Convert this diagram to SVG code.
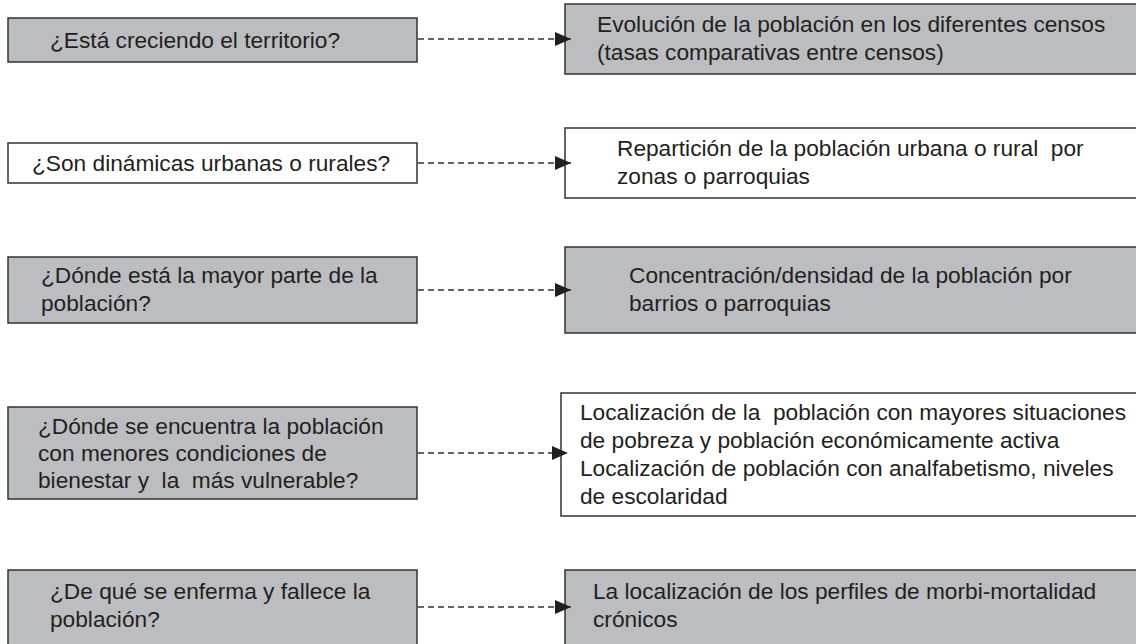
<svg xmlns="http://www.w3.org/2000/svg" width="1136" height="644" viewBox="0 0 1136 644">
<style>
.g{fill:#bcbdc0;stroke:#333333;stroke-width:1.5}
.w{fill:#ffffff;stroke:#333333;stroke-width:1.5}
text{font-family:"Liberation Sans",Arial,sans-serif;font-size:22.7px;fill:#231f20}
.c{stroke:#333333;stroke-width:1.3;stroke-dasharray:6,4;fill:none}
</style>
<defs>
<marker id="ah" markerWidth="16" markerHeight="14" refX="16" refY="7" orient="auto" markerUnits="userSpaceOnUse">
<path d="M0,0 L16,7 L0,14 Z" fill="#231f20"/>
</marker>
</defs>
<rect width="1136" height="644" fill="#ffffff"/>
<g id="q1"><rect class="g" x="8" y="18" width="409" height="44"/><text x="50" y="48">¿Está creciendo el territorio?</text></g>
<g id="a1"><rect class="g" x="565" y="4" width="580" height="70"/><text x="597" y="32">Evolución de la población en los diferentes censos</text><text x="597" y="60">(tasas comparativas entre censos)</text></g>
<g id="q2"><rect class="w" x="8" y="143" width="409" height="40"/><text x="32" y="171">¿Son dinámicas urbanas o rurales?</text></g>
<g id="a2"><rect class="w" x="565" y="128" width="580" height="70"/><text x="617" y="156" xml:space="preserve">Repartición de la población urbana o rural  por</text><text x="617" y="184">zonas o parroquias</text></g>
<g id="q3"><rect class="g" x="8" y="257" width="409" height="66"/><text x="41" y="283">¿Dónde está la mayor parte de la</text><text x="41" y="311">población?</text></g>
<g id="a3"><rect class="g" x="565" y="247" width="580" height="86"/><text x="629" y="283">Concentración/densidad de la población por</text><text x="629" y="311">barrios o parroquias</text></g>
<g id="q4"><rect class="g" x="8" y="407" width="409" height="92"/><text x="38" y="434">¿Dónde se encuentra la población</text><text x="38" y="461">con menores condiciones de</text><text x="38" y="488" xml:space="preserve">bienestar y  la  más vulnerable?</text></g>
<g id="a4"><rect class="w" x="561" y="393" width="584" height="123"/><text x="580" y="420" xml:space="preserve">Localización de la  población con mayores situaciones</text><text x="580" y="448">de pobreza y población económicamente activa</text><text x="580" y="476">Localización de población con analfabetismo, niveles</text><text x="580" y="504">de escolaridad</text></g>
<g id="q5"><rect class="g" x="8" y="570" width="409" height="80"/><text x="50" y="599">¿De qué se enferma y fallece la</text><text x="50" y="627">población?</text></g>
<g id="a5"><rect class="g" x="565" y="570" width="580" height="80"/><text x="593" y="599">La localización de los perfiles de morbi-mortalidad</text><text x="593" y="627">crónicos</text></g>
<g id="connectors">
<path class="c" d="M418,39 H571" marker-end="url(#ah)"/>
<path class="c" d="M418,163 H571" marker-end="url(#ah)"/>
<path class="c" d="M418,290 H571" marker-end="url(#ah)"/>
<path class="c" d="M418,453 H568" marker-end="url(#ah)"/>
<path class="c" d="M418,607 H571" marker-end="url(#ah)"/>
</g>
</svg>
